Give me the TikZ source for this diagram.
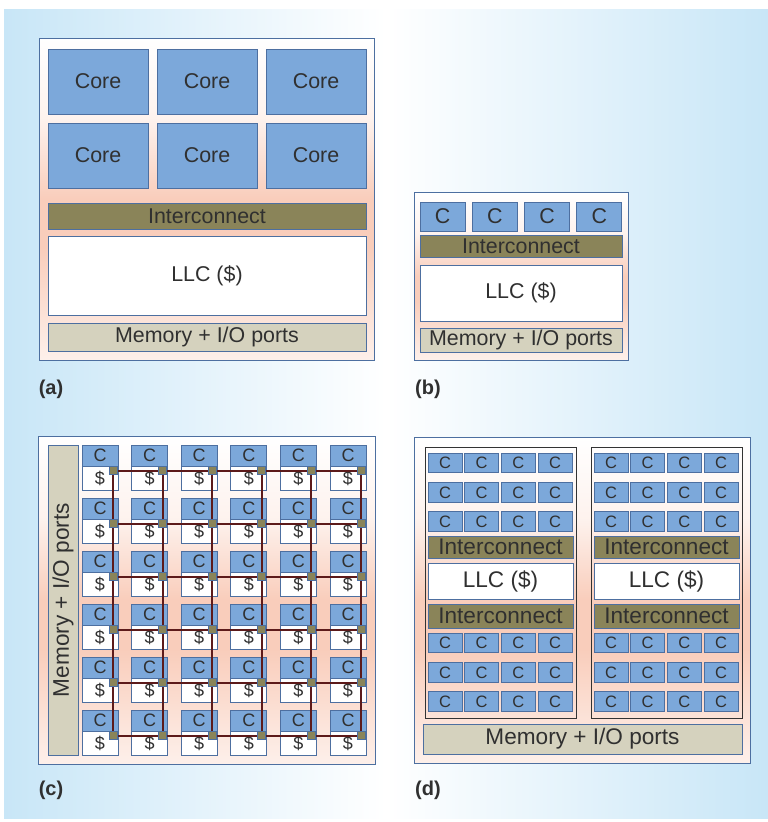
\documentclass[tikz,border=0pt]{standalone}
\usepackage{fontspec}
\setmainfont{Liberation Sans}
\definecolor{bgblue}{HTML}{C8E6F7}
\definecolor{peach}{HTML}{F9CDBB}
\definecolor{bord}{HTML}{4D6FA0}
\definecolor{coreblue}{HTML}{7CA8DA}
\definecolor{olive}{HTML}{8A8459}
\definecolor{memfill}{HTML}{D5D2BE}
\definecolor{txt}{HTML}{303030}
\definecolor{mesh}{HTML}{5C1A1A}
\pgfdeclareverticalshading{panelshade}{100bp}{color(0bp)=(white!70!peach); color(25bp)=(white!70!peach); color(32.5bp)=(white!40!peach); color(42.5bp)=(peach); color(50bp)=(peach); color(62.5bp)=(white!75!peach); color(75bp)=(white); color(100bp)=(white)}
\begin{document}
\begin{tikzpicture}[x=1pt,y=-1pt]
\tikzset{
  box/.style={draw=bord, line width=1pt, inner sep=0pt, outer sep=0pt, text=txt},
  corebox/.style={box, fill=coreblue},
  icbox/.style={box, fill=olive},
  llcbox/.style={box, fill=white},
  membox/.style={box, fill=memfill},
  framebox/.style={draw=bord, line width=1pt, inner sep=0pt, shading=panelshade},
  clusterbox/.style={draw=black!80, line width=1pt, inner sep=0pt},
  router/.style={box, fill=olive, minimum width=8, minimum height=8},
  meshline/.style={draw=mesh, line width=2pt},
  wh/.style 2 args={minimum width=#1, minimum height=#2},
  fa/.style={font=\fontsize{21.4}{24}\selectfont},
  fc/.style={font=\fontsize{18}{20}\selectfont},
  fd/.style={font=\fontsize{16.5}{18}\selectfont},
  fdl/.style={font=\fontsize{22.6}{25}\selectfont},
  lbl/.style={font=\fontsize{20}{22}\selectfont\bfseries, text=txt, inner sep=0pt},
}
\useasboundingbox (0,0) rectangle (768,822);
\fill[left color=bgblue, right color=bgblue, middle color=white] (4,9) rectangle (768,818);

% ---------------- (a)
\node[framebox, wh={335}{322}] (fa) at (206.5,199) {};
\foreach \i in {0,1,2}{
  \foreach \j in {0,1}{
    \node[corebox, fa, wh={100}{65}] (a-core-\i-\j) at (98+109*\i, 81.5+74*\j) {Core};
  }
}
\node[icbox, fa, wh={318}{26}] (a-ic) at (207,216) {Interconnect};
\node[llcbox, fa, wh={318}{79}] (a-llc) at (207,275.5) {LLC (\$)};
\node[membox, fa, wh={318}{28}] (a-mem) at (207,337) {Memory + I/O ports};
\node[lbl] (la) at (51,389) {(a)};

% ---------------- (b)
\node[framebox, wh={214}{168}] (fb) at (521,276) {};
\foreach \i in {0,...,3}{
  \node[corebox, fa, wh={45}{29}] (b-core-\i) at (442.5+52.3*\i, 216.5) {C};
}
\node[icbox, fa, wh={202}{22}] (b-ic) at (521,246) {Interconnect};
\node[llcbox, fa, wh={202}{56}] (b-llc) at (521,293) {LLC (\$)};
\node[membox, fa, wh={202}{24}] (b-mem) at (521,340) {Memory + I/O ports};
\node[lbl] (lb) at (428,389) {(b)};

% ---------------- (c)
\node[framebox, wh={337}{328}] (fc) at (206.5,600) {};
\node[membox, fdl, wh={310}{30}, rotate=90] (c-mem) at (63,600) {Memory + I/O ports};
\foreach \i in {0,...,5}{
  \foreach \j in {0,...,5}{
    \node[corebox, fc, wh={36}{21}] (c-core-\i-\j) at (100+49.6*\i, 455.5+53*\j) {C};
    \node[llcbox, fc, wh={36}{24}] (c-cache-\i-\j) at (100+49.6*\i, 478+53*\j) {\$};
    \coordinate (rc-\i-\j) at (113+49.6*\i, 470.5+53*\j);
  }
}
\foreach \k in {0,...,5}{
  \draw[meshline] (rc-0-\k) -- (rc-5-\k);
  \draw[meshline] (rc-\k-0) -- (rc-\k-5);
}
\foreach \i in {0,...,5}{
  \foreach \j in {0,...,5}{
    \node[router] (r-\i-\j) at (rc-\i-\j) {};
  }
}
\node[lbl] (lc) at (51,790) {(c)};

% ---------------- (d)
\node[framebox, wh={336}{326}] (fd) at (582,600) {};
\foreach \k/\x in {0/428,1/594}{
  \node[clusterbox, wh={151}{271}] (d-cl-\k) at (\x+72.5,582.5) {};
  \foreach \r/\y in {0/463,1/492.5,2/521.5,3/643,4/672.5,5/701.5}{
    \foreach \i in {0,...,3}{
      \node[corebox, fd, wh={34}{19.5}] (d-core-\k-\r-\i) at (\x+17+36.7*\i, \y) {C};
    }
  }
  \node[icbox, fdl, wh={145}{22}] (d-ic1-\k) at (\x+72.5,547) {Interconnect};
  \node[llcbox, fdl, wh={145}{36}] (d-llc-\k) at (\x+72.5,581) {LLC (\$)};
  \node[icbox, fdl, wh={145}{24}] (d-ic2-\k) at (\x+72.5,616) {Interconnect};
}
\node[membox, fdl, wh={319}{30}] (d-mem) at (582.5,739) {Memory + I/O ports};
\node[lbl] (ld) at (428,790) {(d)};
\end{tikzpicture}
\end{document}
